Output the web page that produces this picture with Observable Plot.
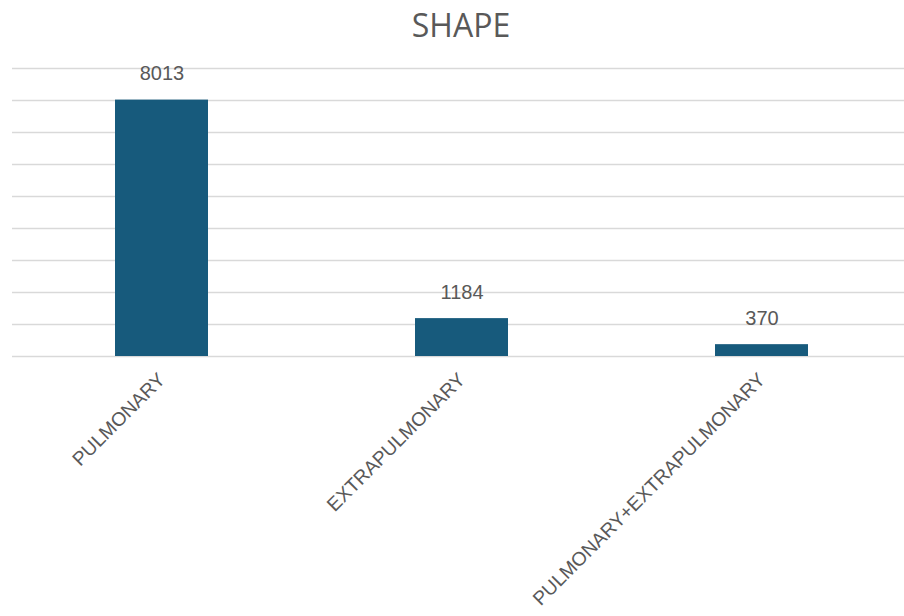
<!DOCTYPE html>
<html><head><meta charset="utf-8">
<script src="https://cdn.jsdelivr.net/npm/d3@7"></script>
<script src="https://cdn.jsdelivr.net/npm/@observablehq/plot@0.6"></script>
<style>
body{margin:0;background:#fff;}
#title{width:904px;box-sizing:border-box;padding-left:18px;height:52px;line-height:50px;text-align:center;font-family:"Open Sans",sans-serif;font-size:32px;color:#595959;}
</style>
</head><body>
<div id="title">SHAPE</div>
<div id="chart"></div>
<script>
const categories = ["PULMONARY", "EXTRAPULMONARY", "PULMONARY+EXTRAPULMONARY"];
const counts = [8013, 1184, 370];
const yTicks = [0, 1000, 2000, 3000, 4000, 5000, 6000, 7000, 8000, 9000];
const data = categories.map((c, i) => ({category: c, count: counts[i]}));

const chart = Plot.plot({
  width: 904, height: 564,
  marginTop: 16, marginBottom: 260, marginLeft: 12, marginRight: 0,
  x: {domain: categories, range: [11, 912], paddingInner: 0.69, paddingOuter: 0.345, axis: null},
  y: {domain: [0, 9000], axis: null},
  style: {fontFamily: "Liberation Sans, Arial, sans-serif", fontSize: "19px", color: "#595959", background: "#fff"},
  marks: [
    Plot.ruleY(yTicks, {stroke: "#d9d9d9", strokeWidth: 1.3}),
    Plot.barY(data, {x: "category", y: "count", fill: "#175a7c"}),
    Plot.text(data, {x: "category", y: "count", text: d => String(d.count), dy: -26, fill: "#595959", fontSize: 20}),
    Plot.axisX({tickRotate: -45, tickSize: 0, tickPadding: 20, label: null, fill: "#595959", fontSize: 19.3})
  ]
});
document.getElementById("chart").appendChild(chart);
</script>
</body></html>
